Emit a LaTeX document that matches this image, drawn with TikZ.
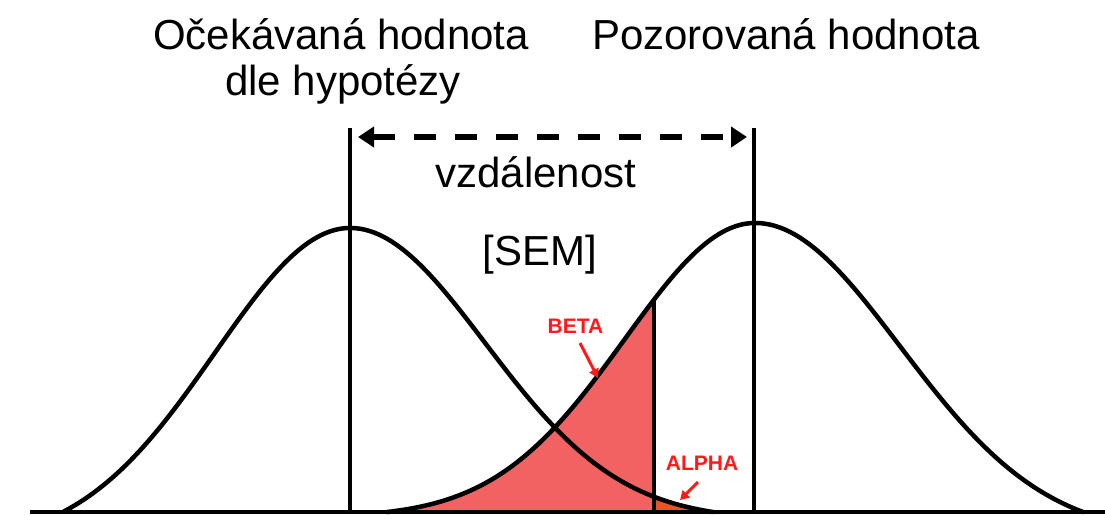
\documentclass[tikz,border=0pt]{standalone}
\usepackage{fontspec}
\setmainfont{Liberation Sans}
\usetikzlibrary{arrows.meta}
\definecolor{betafill}{RGB}{243,98,98}
\definecolor{alphafill}{RGB}{232,85,30}
\definecolor{labelred}{RGB}{255,25,25}
\tikzset{
  bigtext/.style={font=\fontsize{42}{50}\selectfont, inner sep=0pt, anchor=base},
  smalllabel/.style={font=\bfseries\fontsize{21}{23}\selectfont, text=labelred, inner sep=0pt},
  curveline/.style={line width=4.5pt, line join=round, line cap=round},
  vline/.style={line width=3.5pt},
  redarrow/.style={draw=labelred, line width=3pt, -{Triangle[length=9pt,width=10pt]}},
  distarrow/.style={line width=6pt, dash pattern=on 22pt off 19pt, {Triangle[length=16pt,width=20pt]}-{Triangle[length=16pt,width=20pt]}}
}
% left curve (peak at x=350), right curve (peak at x=755); y measured downward
\def\hLL{512-284*(exp(-((\x-350)/100)^2/3.645)-0.104)/0.896}
\def\hLR{512-284*(exp(-((\x-350)/100)^2/3.645)-0.0269)/0.9731}
\def\hRL{512-289*(exp(-((\x-755)/100)^2/3.38)-0.0182)/0.9818}
\def\hRR{512-289*(exp(-((\x-755)/100)^2/4.205)-0.0774)/0.9226}
\begin{document}
\begin{tikzpicture}[x=1pt,y=-1pt]
\useasboundingbox (0,0) rectangle (1105,515);
\fill[white] (0,0) rectangle (1105,515);

% beta region (under the right curve, left of the critical value)
\fill[betafill] (387,512) -- plot[domain=387:654, samples=90] (\x,{\hRL}) -- (654,512) -- cycle;
% alpha region (under the left curve, right of the critical value)
\fill[alphafill] (654,512) -- plot[domain=654:713, samples=30] (\x,{\hLR}) -- (713,512) -- cycle;

% curves
\draw[curveline] plot[domain=64:350, samples=100] (\x,{\hLL}) -- plot[domain=350:713, samples=120] (\x,{\hLR});
\draw[curveline] plot[domain=387:755, samples=120] (\x,{\hRL}) -- plot[domain=755:1083, samples=110] (\x,{\hRR});

% vertical lines and baseline
\coordinate (Ltop) at (350,128);
\coordinate (Lbot) at (350,512);
\coordinate (Rtop) at (754,128);
\coordinate (Rbot) at (754,512);
\coordinate (Ctop) at (654,300);
\coordinate (Cbot) at (654,512);
\coordinate (Bl) at (30,512);
\coordinate (Br) at (1105,512);
\draw[vline] (Ltop) -- (Lbot);
\draw[vline] (Rtop) -- (Rbot);
\draw[vline] (Ctop) -- (Cbot);
\draw[vline] (Bl) -- (Br);

% distance arrow
\coordinate (dA) at (358,137);
\coordinate (dB) at (747,137);
\draw[distarrow] (dA) -- (dB);

% texts
\node[bigtext] (exp1) at (341,49) {Očekávaná hodnota};
\node[bigtext] (exp2) at (343,95) {dle hypotézy};
\node[bigtext] (obs) at (786,49) {Pozorovaná hodnota};
\node[bigtext] (dist) at (536,187) {vzdálenost};
\node[bigtext] (sem) at (540,265) {[SEM]};

% small labels
\node[smalllabel] (beta) at (575.5,326) {BETA};
\node[smalllabel] (alpha) at (702,463.5) {ALPHA};
\coordinate (betatail) at (580,343);
\coordinate (betatip) at (598,378);
\coordinate (alphatail) at (698,482);
\coordinate (alphatip) at (680,500);
\draw[redarrow] (betatail) -- (betatip);
\draw[redarrow] (alphatail) -- (alphatip);
\end{tikzpicture}
\end{document}
